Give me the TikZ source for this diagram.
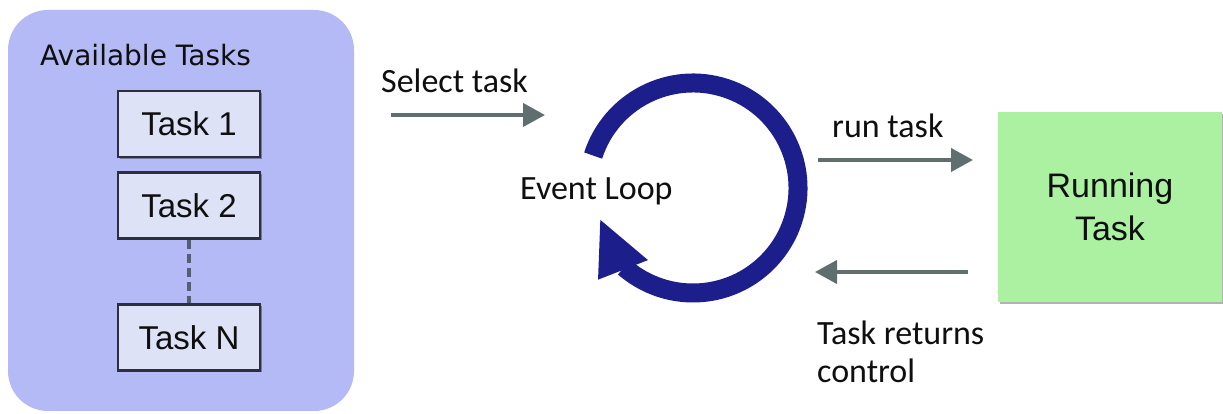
\documentclass[tikz,border=0pt]{standalone}
\usepackage{fontspec}
\setmainfont{Carlito}
\newfontfamily\arialf{Liberation Sans}
\newfontfamily\dejaf{DejaVu Sans}
\usetikzlibrary{arrows.meta,shadows,calc}
\definecolor{panelfill}{RGB}{180,186,246}
\definecolor{taskfill}{RGB}{222,226,247}
\definecolor{taskdraw}{RGB}{45,48,60}
\definecolor{runfill}{RGB}{172,240,162}
\definecolor{arrowgray}{RGB}{95,110,110}
\definecolor{dashgray}{RGB}{85,95,115}
\definecolor{loopblue}{RGB}{28,30,140}
\definecolor{txt}{RGB}{15,15,15}
\tikzset{
  taskbox/.style={draw=taskdraw, line width=2.2pt, fill=taskfill, minimum width=142pt, minimum height=66pt, inner sep=0pt,
     font=\arialf\fontsize{33}{38}\selectfont, text=txt,
     drop shadow={shadow xshift=2pt, shadow yshift=-2pt, fill=black, opacity=.35}},
  lbl/.style={anchor=base west, inner sep=0pt, font=\fontsize{34}{41}\selectfont, text=txt},
  flow/.style={draw=arrowgray, line width=4pt, -{Triangle[length=22pt,width=23pt]}},
}
\begin{document}
\begin{tikzpicture}[x=1pt,y=1pt]
\useasboundingbox (0,0) rectangle (1223,414);
\fill[white] (0,0) rectangle (1223,414);
% left panel
\fill[panelfill, rounded corners=40pt] (8,3) rectangle (354,404);
\node[anchor=base west, inner sep=0pt, font=\dejaf\fontsize{28}{32}\selectfont, text=txt] (avail) at (40,348) {Available Tasks};
\node[taskbox] (t1) at (189,290) {Task 1};
\node[taskbox] (t2) at (189,208.5) {Task 2};
\node[taskbox] (tn) at (189,76.5) {Task N};
\draw[dashgray, line width=3.5pt, dash pattern=on 9pt off 5pt] (t2.south) -- (tn.north);
% select task
\node[lbl] (sel) at (381,321) {Select task};
\coordinate (s0) at (391,299);
\coordinate (s1) at (545,299);
\draw[flow] (s0) -- (s1);
% event loop
\coordinate (c) at (693,226);
\draw[loopblue, line width=19pt] ($(c)+(162:105)$) arc[start angle=162, end angle=-131, radius=105];
\fill[loopblue] ($(c)+(199:98)$) -- ($(c)+(224:132)$) -- ($(c)+(238:85)$) -- cycle;
\node[lbl] (ev) at (520,214) {Event Loop};
% run task
\node[lbl] (run) at (832,276) {run task};
\coordinate (r0) at (818,254);
\coordinate (r1) at (973,254);
\draw[flow] (r0) -- (r1);
% running task box
\node[fill=runfill, minimum width=224pt, minimum height=190pt, inner sep=0pt, align=center,
      font=\arialf\fontsize{34}{43}\selectfont, text=txt,
      drop shadow={shadow xshift=2pt, shadow yshift=-2pt, fill=black, opacity=.3}] (rt) at (1110,207) {Running\\Task};
% return
\coordinate (b0) at (968,142);
\coordinate (b1) at (815,142);
\draw[flow] (b0) -- (b1);
\node[lbl] (ret1) at (817,69) {Task returns};
\node[lbl] (ret2) at (817,31) {control};
\end{tikzpicture}
\end{document}
